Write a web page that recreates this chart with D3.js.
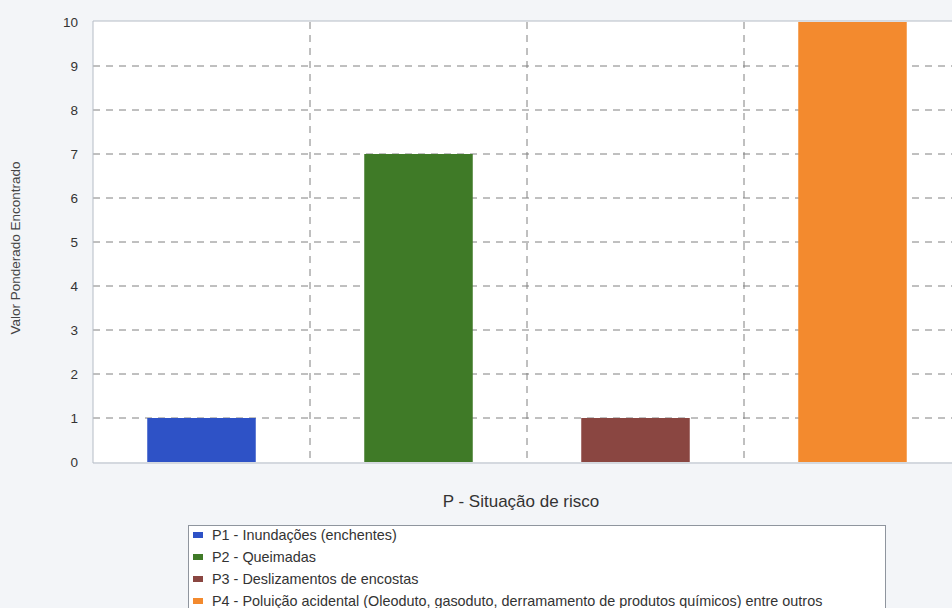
<!DOCTYPE html>
<html>
<head>
<meta charset="utf-8">
<script src="https://cdn.jsdelivr.net/npm/d3@7"></script>
<style>
  html, body { margin: 0; padding: 0; background: #f3f5f8; }
  svg { display: block; font-family: "Liberation Sans", Arial, sans-serif; }
</style>
</head>
<body>
<svg id="chart" width="952" height="608"></svg>
<script>
// Risk situations and their weighted scores
const categories = ["P1", "P2", "P3", "P4"];
const values = [1, 7, 1, 10];
const legendLabels = [
  "P1 - Inundações (enchentes)",
  "P2 - Queimadas",
  "P3 - Deslizamentos de encostas",
  "P4 - Poluição acidental (Oleoduto, gasoduto, derramamento de produtos químicos) entre outros"
];
const colors = ["#2e52c6", "#3f7a27", "#8a4641", "#f38a2e"];
const yTicks = [0, 1, 2, 3, 4, 5, 6, 7, 8, 9, 10];

const svg = d3.select("#chart");
const plot = { left: 93, right: 961, top: 22, bottom: 462 };

const x = d3.scaleBand()
  .domain(categories)
  .range([plot.left, plot.right])
  .paddingInner(0.5)
  .paddingOuter(0.25);

const y = d3.scaleLinear()
  .domain([0, 10])
  .range([plot.bottom, plot.top]);

// plot background
svg.append("rect")
  .attr("x", plot.left).attr("y", plot.top - 1)
  .attr("width", plot.right - plot.left).attr("height", plot.bottom - plot.top + 1)
  .attr("fill", "#ffffff");

// horizontal dashed grid
svg.append("g")
  .selectAll("line")
  .data(yTicks.filter(d => d > 0 && d < 10))
  .join("line")
  .attr("x1", plot.left).attr("x2", plot.right)
  .attr("y1", d => y(d)).attr("y2", d => y(d))
  .attr("stroke", "#808080").attr("stroke-width", 1)
  .attr("stroke-dasharray", "7,6");

// vertical dashed separators between categories
const step = x.step();
svg.append("g")
  .selectAll("line")
  .data(d3.range(1, categories.length))
  .join("line")
  .attr("x1", i => x.range()[0] + i * step).attr("x2", i => x.range()[0] + i * step)
  .attr("y1", plot.top).attr("y2", plot.bottom)
  .attr("stroke", "#808080").attr("stroke-width", 1)
  .attr("stroke-dasharray", "7,6");

// bars
svg.append("g")
  .selectAll("rect")
  .data(values)
  .join("rect")
  .attr("x", (d, i) => x(categories[i]))
  .attr("width", x.bandwidth())
  .attr("y", d => y(d))
  .attr("height", d => y(0) - y(d))
  .attr("fill", (d, i) => colors[i]);

// plot frame
svg.append("line")
  .attr("x1", plot.left).attr("x2", plot.right)
  .attr("y1", plot.top - 1).attr("y2", plot.top - 1)
  .attr("stroke", "#b5bcc6");
svg.append("line")
  .attr("x1", plot.left).attr("x2", plot.right)
  .attr("y1", plot.bottom + 1).attr("y2", plot.bottom + 1)
  .attr("stroke", "#b5bcc6");
svg.append("line")
  .attr("x1", plot.left).attr("x2", plot.left)
  .attr("y1", plot.top - 1).attr("y2", plot.bottom + 1)
  .attr("stroke", "#b5bcc6");

// y axis labels
const yAxis = d3.axisLeft(y).tickValues(yTicks).tickSize(0).tickPadding(15);
const gy = svg.append("g")
  .attr("transform", `translate(${plot.left},0)`)
  .call(yAxis);
gy.select(".domain").remove();
gy.selectAll("text")
  .attr("font-size", 13.5)
  .attr("fill", "#333")
  .style("font-family", "'Liberation Sans', Arial, sans-serif");

// axis titles
svg.append("text")
  .attr("transform", "translate(20,248) rotate(-90)")
  .attr("text-anchor", "middle")
  .attr("font-size", 13.5)
  .attr("fill", "#444")
  .text("Valor Ponderado Encontrado");

svg.append("text")
  .attr("x", 521).attr("y", 507)
  .attr("text-anchor", "middle")
  .attr("font-size", 17)
  .attr("fill", "#333")
  .text("P - Situação de risco");

// legend
const legend = svg.append("g");
legend.append("rect")
  .attr("x", 188.5).attr("y", 525.5)
  .attr("width", 697).attr("height", 95)
  .attr("fill", "#ffffff")
  .attr("stroke", "#8f959e");

const items = legend.selectAll("g.item")
  .data(legendLabels)
  .join("g")
  .attr("class", "item")
  .attr("transform", (d, i) => `translate(193,${535 + i * 22})`);
items.append("rect")
  .attr("x", 0).attr("y", -3)
  .attr("width", 10).attr("height", 6)
  .attr("fill", (d, i) => colors[i]);
items.append("text")
  .attr("x", 19).attr("y", 5)
  .attr("font-size", 14.4)
  .attr("fill", "#333")
  .text(d => d);
</script>
</body>
</html>
